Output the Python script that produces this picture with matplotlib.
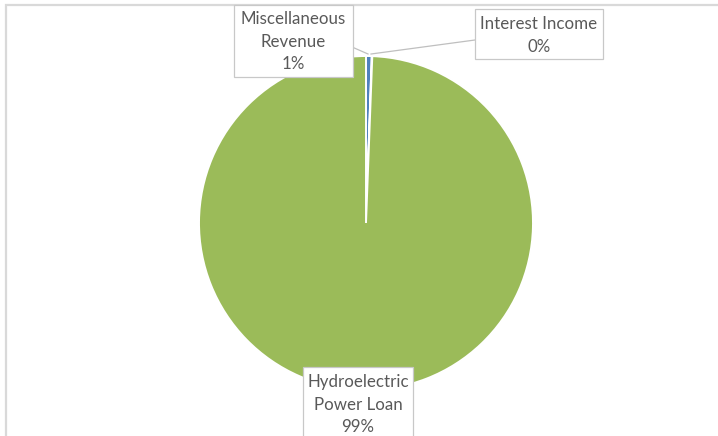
import matplotlib.pyplot as plt
from matplotlib.patches import Rectangle

# revenue sources (share of total, %)
sources = ['Hydroelectric\nPower Loan', 'Miscellaneous\nRevenue', 'Interest Income']
shares = [99.4, 0.55, 0.05]
colors = ['#9BBB59', '#4F81BD', '#C0504D']

# draw order in the pie: misc, interest, then hydro (clockwise from 12 o'clock)
order = [1, 2, 0]

W, H = 718, 436
fig = plt.figure(figsize=(W / 100, H / 100), dpi=100)
ax = fig.add_axes([0, 0, 1, 1])

cx, cy, r = 366, H - 223, 167
ax.pie([shares[i] for i in order], colors=[colors[i] for i in order],
       startangle=90, counterclock=False, center=(cx, cy), radius=r,
       wedgeprops=dict(edgecolor='white', linewidth=1.4))
ax.set_xlim(0, W)
ax.set_ylim(0, H)
ax.set_aspect('equal')
ax.axis('off')

# chart area border (only top and left edges fall inside the image)
ax.add_patch(Rectangle((6, -40), W + 60, H - 5 + 40, fill=False,
                       edgecolor='#D9D9D9', linewidth=1.6, clip_on=True))

txt = dict(ha='center', va='center', color='#595959', fontsize=12.2,
           family=['Lato', 'DejaVu Sans'], linespacing=1.5)
box = dict(facecolor='white', edgecolor='#C8C8C8', linewidth=0.9, zorder=3)
line_kw = dict(color='#BFBFBF', linewidth=0.9, zorder=2)

def label(i):
    return '%s\n%.0f%%' % (sources[i], shares[i])

# Miscellaneous Revenue
ax.add_patch(Rectangle((234, H - 77), 119, 72, **box))
ax.plot([352, 368], [H - 47, H - 54], **line_kw)
ax.text(293.5, H - 42, label(1), zorder=4, **txt)

# Interest Income
ax.add_patch(Rectangle((475, H - 59), 128, 50, **box))
ax.plot([475, 371], [H - 40, H - 54], **line_kw)
ax.text(539, H - 35.5, label(2), zorder=4, **txt)

# Hydroelectric Power Loan
ax.add_patch(Rectangle((303, -20), 110, H - 367 + 20, **box))
ax.text(358, H - 404.5, label(0), zorder=4, **txt)

fig.savefig('out.png', dpi=100)
